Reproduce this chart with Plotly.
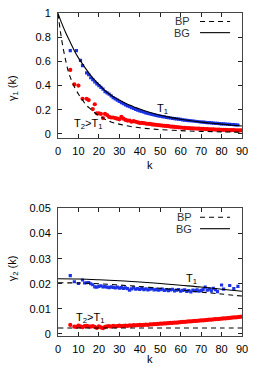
import plotly.graph_objects as go

# ---------------- data: top panel (gamma_1) ----------------
k_bg1 = [0, 2, 4, 6, 8, 10, 12, 14, 16, 18, 20, 22, 24, 26, 28, 30, 32, 34, 36, 38, 40,
         42, 45, 50, 55, 60, 65, 70, 75, 80, 85, 90]
bg1 = [1.0, 0.91, 0.83, 0.76, 0.69, 0.63, 0.58, 0.53, 0.485, 0.445, 0.41, 0.375, 0.345,
       0.32, 0.298, 0.28, 0.262, 0.246, 0.232, 0.218, 0.205, 0.193, 0.177, 0.154, 0.136,
       0.121, 0.108, 0.097, 0.088, 0.08, 0.071, 0.064]

k_bp1 = [0, 1, 2, 3, 4, 5, 6, 8, 10, 12, 14, 16, 18, 20, 22, 24, 26, 28, 31, 35, 40, 45,
         50, 60, 70, 80, 90]
bp1 = [1.0, 0.87, 0.76, 0.67, 0.59, 0.52, 0.47, 0.39, 0.33, 0.28, 0.235, 0.205, 0.175,
       0.15, 0.13, 0.112, 0.098, 0.088, 0.076, 0.062, 0.05, 0.041, 0.035, 0.026, 0.02,
       0.016, 0.013]

k_blue1 = [6, 9, 11, 12, 14, 15] + list(range(16, 89))
blue1 = [0.69, 0.69, 0.61, 0.565, 0.505, 0.49,
         0.465, 0.45, 0.43, 0.415, 0.40, 0.385, 0.37, 0.35, 0.34, 0.33, 0.315, 0.30, 0.29,
         0.28, 0.268, 0.258, 0.25, 0.24, 0.232, 0.225, 0.216, 0.21, 0.202, 0.196, 0.19,
         0.185, 0.18, 0.174, 0.17, 0.165, 0.161, 0.157, 0.153, 0.149, 0.146, 0.143, 0.14,
         0.137, 0.134, 0.131, 0.128, 0.126, 0.123, 0.121, 0.119, 0.116, 0.114, 0.112, 0.11,
         0.108, 0.106, 0.104, 0.102, 0.1, 0.098, 0.097, 0.095, 0.093, 0.092, 0.09, 0.089,
         0.087, 0.086, 0.085, 0.083, 0.082, 0.081, 0.079, 0.078, 0.077, 0.076, 0.074, 0.073]

k_red1 = [6, 8, 10, 12, 14, 15, 17, 18, 19, 20, 21, 22, 23] + list(range(24, 91))
red1 = [0.53, 0.41, 0.40, 0.29, 0.29, 0.28, 0.205, 0.245, 0.17, 0.17, 0.165, 0.13, 0.165,
        0.155, 0.14, 0.135, 0.135, 0.13, 0.125, 0.12, 0.14, 0.125, 0.115, 0.11, 0.11, 0.10,
        0.105, 0.10, 0.095, 0.09, 0.09, 0.088, 0.085, 0.083, 0.082, 0.078, 0.076, 0.074,
        0.072, 0.07, 0.068, 0.066, 0.065, 0.063, 0.06, 0.059, 0.057, 0.055, 0.054, 0.052,
        0.05, 0.049, 0.048, 0.047, 0.046, 0.045, 0.044, 0.043, 0.042, 0.041, 0.04, 0.039,
        0.038, 0.037, 0.036, 0.036, 0.035, 0.034, 0.034, 0.033, 0.033, 0.032, 0.031, 0.031,
        0.030, 0.030, 0.029, 0.029, 0.028, 0.028]

# ---------------- data: bottom panel (gamma_2) ----------------
k_bg2 = [0, 10, 20, 30, 40, 50, 60, 70, 80, 90]
bg2 = [0.022, 0.0219, 0.0216, 0.0212, 0.0207, 0.0201, 0.0194, 0.0187, 0.0178, 0.017]

k_bp2 = [0, 10, 20, 30, 40, 50, 60, 70, 80, 90]
bp2_hi = [0.0204, 0.0203, 0.0200, 0.0195, 0.0189, 0.0182, 0.0175, 0.0167, 0.0159, 0.0151]
bp2_lo = [0.0024, 0.0024, 0.0024, 0.0024, 0.0024, 0.0024, 0.0024, 0.0024, 0.0024, 0.0024]

k_blue2 = [6, 8, 10] + list(range(12, 79)) + [80, 81, 84, 86, 88]
blue2 = [0.0232, 0.0208, 0.0201,
         0.0215, 0.0203, 0.0204, 0.0205, 0.02, 0.0196, 0.0188, 0.0187, 0.019, 0.0192,
         0.0188, 0.0189, 0.0187, 0.0185, 0.0188, 0.0186, 0.0184, 0.0187, 0.0183, 0.0185,
         0.0182, 0.0184, 0.0181, 0.0175, 0.018, 0.0184, 0.0179, 0.0181, 0.0178, 0.0182,
         0.0177, 0.018, 0.0176, 0.0179, 0.0181, 0.0176, 0.0178, 0.0175, 0.0177, 0.0179,
         0.0174, 0.0177, 0.0173, 0.0176, 0.0178, 0.0172, 0.0175, 0.0177, 0.0171, 0.0174,
         0.0176, 0.017, 0.0173, 0.0168, 0.0175, 0.0172, 0.0176, 0.0171, 0.0174, 0.0178,
         0.0187, 0.0175, 0.0179, 0.0172, 0.0182, 0.0177, 0.0169,
         0.0195, 0.0179, 0.0193, 0.0181, 0.019]

k_red2 = [6] + list(range(8, 91))
red2 = [0.0036, 0.0029, 0.0028, 0.0033, 0.003, 0.0027, 0.0031, 0.0032, 0.003, 0.0029,
        0.0031, 0.0028, 0.0024, 0.003, 0.0026, 0.0023, 0.0028, 0.003, 0.0031, 0.0029,
        0.0032, 0.003, 0.0031, 0.0033, 0.0031, 0.0032, 0.0033, 0.0032, 0.0034, 0.0033,
        0.0035, 0.0034, 0.0035, 0.0036, 0.0035, 0.0036, 0.0037, 0.0036, 0.0038, 0.0038,
        0.0039, 0.0039, 0.004, 0.0041, 0.0041, 0.0042, 0.0042, 0.0043, 0.0044, 0.0044,
        0.0045, 0.0045, 0.0046, 0.0047, 0.0048, 0.0048, 0.0049, 0.005, 0.005, 0.0051,
        0.0052, 0.0052, 0.0053, 0.0054, 0.0054, 0.0055, 0.0056, 0.0057, 0.0057, 0.0058,
        0.0059, 0.0059, 0.006, 0.0061, 0.0062, 0.0062, 0.0063, 0.0064, 0.0065, 0.0066,
        0.0066, 0.0067, 0.0068, 0.0069]

x_ticks = [0, 10, 20, 30, 40, 50, 60, 70, 80, 90]
y1_ticks = [0, 0.2, 0.4, 0.6, 0.8, 1]
y1_labels = ["0", "0.2", "0.4", "0.6", "0.8", "1"]
y2_ticks = [0, 0.01, 0.02, 0.03, 0.04, 0.05]
y2_labels = ["0", "0.01", "0.02", "0.03", "0.04", "0.05"]

BLUE = "#1a33e6"
RED = "#ff0000"
FONT = "Liberation Sans, Arial, sans-serif"
DASH = "5px,4px"

fig = go.Figure()

def add_panel(xa, ya, kbg, bg, kbp, bps, kb, b, kr, r):
    fig.add_trace(go.Scatter(x=kr, y=r, mode="markers", xaxis=xa, yaxis=ya,
                             marker=dict(symbol="circle", size=4.2, color=RED, line=dict(width=0))))
    fig.add_trace(go.Scatter(x=kb, y=b, mode="markers", xaxis=xa, yaxis=ya,
                             marker=dict(symbol="square", size=3.2, color=BLUE, line=dict(width=0))))
    for bp in bps:
        fig.add_trace(go.Scatter(x=kbp, y=bp, mode="lines", xaxis=xa, yaxis=ya,
                                 line=dict(color="black", width=1.1, dash=DASH, shape="spline")))
    fig.add_trace(go.Scatter(x=kbg, y=bg, mode="lines", xaxis=xa, yaxis=ya,
                             line=dict(color="black", width=1.1, shape="spline")))

add_panel("x", "y", k_bg1, bg1, k_bp1, [bp1], k_blue1, blue1, k_red1, red1)
add_panel("x2", "y2", k_bg2, bg2, k_bp2, [bp2_hi, bp2_lo], k_blue2, blue2, k_red2, red2)

axis_common = dict(showgrid=False, zeroline=False, showline=True, linecolor="#444",
                   linewidth=1, mirror="ticks", ticks="inside", ticklen=4, tickwidth=1,
                   tickcolor="#222", tickfont=dict(family=FONT, size=11, color="black"))
xax = dict(range=[0, 90], tickvals=x_ticks, ticklabelstandoff=3, **axis_common)

fig.update_layout(
    width=263, height=368,
    margin=dict(l=58, r=21, t=7, b=32),
    paper_bgcolor="white", plot_bgcolor="white",
    showlegend=False,
    xaxis=dict(domain=[0, 1], anchor="y", **xax),
    yaxis=dict(domain=[0.613, 0.999], anchor="x", range=[-0.035, 1.0],
               tickvals=y1_ticks, ticktext=y1_labels, ticklabelstandoff=4, **axis_common),
    xaxis2=dict(domain=[0, 1], anchor="y2", **xax),
    yaxis2=dict(domain=[0, 0.395], anchor="x2", range=[-0.0008, 0.05],
                tickvals=y2_ticks, ticktext=y2_labels, ticklabelstandoff=4, **axis_common),
)

ann_font = dict(family=FONT, size=11, color="black")
key_font = dict(family=FONT, size=11, color="#333")
C = dict(showarrow=False, xanchor="center", yanchor="middle")
anns = [
    dict(x=51, y=0.205, xref="x", yref="y", text="T<sub>1</sub>", font=ann_font, **C),
    dict(x=14.7, y=0.085, xref="x", yref="y", text="T<sub>2</sub>>T<sub>1</sub>", font=ann_font, **C),
    dict(x=65.2, y=0.022, xref="x2", yref="y2", text="T<sub>1</sub>", font=ann_font, **C),
    dict(x=15.5, y=0.0065, xref="x2", yref="y2", text="T<sub>2</sub>>T<sub>1</sub>", font=ann_font, **C),
    # axis titles
    dict(x=0.5, y=-0.218, xref="x domain", yref="y domain", text="k", font=ann_font, **C),
    dict(x=0.5, y=-0.177, xref="x2 domain", yref="y2 domain", text="k", font=ann_font, **C),
    dict(x=-0.245, y=0.4, xref="x domain", yref="y domain", text="γ<sub>1</sub> (k)",
         textangle=-90, font=ann_font, **C),
    dict(x=-0.245, y=0.53, xref="x2 domain", yref="y2 domain", text="γ<sub>2</sub> (k)",
         textangle=-90, font=ann_font, **C),
    # key labels
    dict(x=0.73, y=0.935, xref="x domain", yref="y domain", text="BP", xanchor="right",
         yanchor="middle", showarrow=False, font=key_font),
    dict(x=0.73, y=0.845, xref="x domain", yref="y domain", text="BG", xanchor="right",
         yanchor="middle", showarrow=False, font=key_font),
    dict(x=0.74, y=0.931, xref="x2 domain", yref="y2 domain", text="BP", xanchor="right",
         yanchor="middle", showarrow=False, font=key_font),
    dict(x=0.74, y=0.841, xref="x2 domain", yref="y2 domain", text="BG", xanchor="right",
         yanchor="middle", showarrow=False, font=key_font),
]
fig.update_layout(annotations=anns)

shapes = [
    dict(type="line", xref="x domain", yref="y domain", x0=0.772, x1=0.935, y0=0.935, y1=0.935,
         line=dict(color="black", width=1.1, dash=DASH)),
    dict(type="line", xref="x domain", yref="y domain", x0=0.772, x1=0.935, y0=0.845, y1=0.845,
         line=dict(color="black", width=1.1)),
    dict(type="line", xref="x2 domain", yref="y2 domain", x0=0.772, x1=0.935, y0=0.931, y1=0.931,
         line=dict(color="black", width=1.1, dash=DASH)),
    dict(type="line", xref="x2 domain", yref="y2 domain", x0=0.772, x1=0.935, y0=0.841, y1=0.841,
         line=dict(color="black", width=1.1)),
]
fig.update_layout(shapes=shapes)

fig.write_html("out.html", config={"displayModeBar": False, "staticPlot": True})

# remove the browser's default 8px page margin so the figure sits at the window origin
with open("out.html", "r", encoding="utf-8") as f:
    html = f.read()
html = html.replace("<head>", "<head><style>html,body{margin:0;padding:0;}</style>", 1)
with open("out.html", "w", encoding="utf-8") as f:
    f.write(html)
